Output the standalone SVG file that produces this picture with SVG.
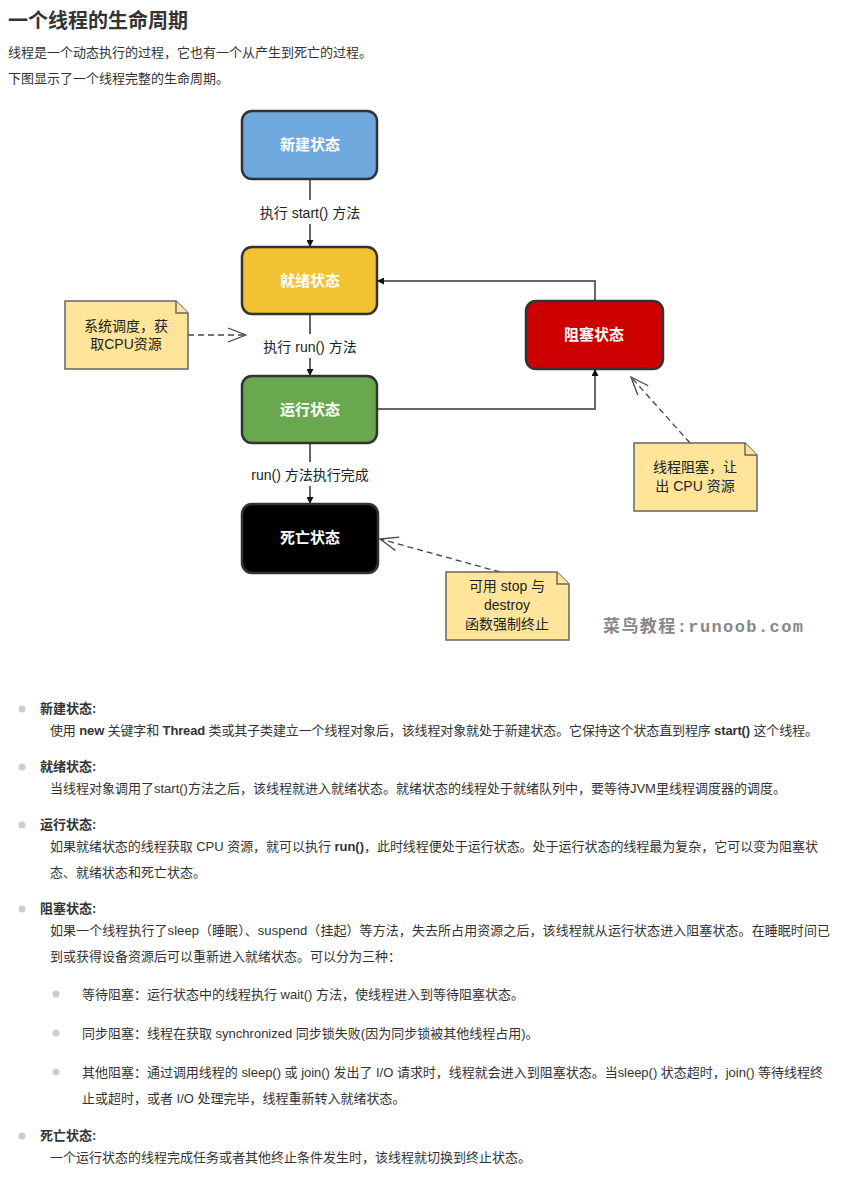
<svg xmlns="http://www.w3.org/2000/svg" width="847" height="1180" viewBox="0 0 847 1180">
<style>
text{font-family:"Liberation Sans","Noto Sans CJK SC",sans-serif;fill:#333}
.t{font-size:13px}
.b{font-weight:bold}
.node{stroke:#333;stroke-width:2.5}
.nl{font-size:15px;font-weight:bold;fill:#fff;text-anchor:middle}
.lbl{font-size:14px;text-anchor:middle;fill:#222}
.note{fill:#ffe599;stroke:#666;stroke-width:1.5}
.nt{font-size:14px;text-anchor:middle;fill:#222}
.c{stroke:#666;stroke-width:2;fill:none}
.d{stroke:#444;stroke-width:1.3;fill:none;stroke-dasharray:6,4}
.dot{fill:#ccc}
</style>
<defs>
<marker id="a" viewBox="0 0 10 10" refX="10" refY="5" markerWidth="7" markerHeight="7" orient="auto" markerUnits="userSpaceOnUse"><path d="M0,0L10,5L0,10z" fill="#111"/></marker>
<marker id="o" viewBox="0 0 20 20" refX="19" refY="10" markerWidth="20" markerHeight="20" orient="auto" markerUnits="userSpaceOnUse"><path d="M1,3L19,10L1,17" fill="none" stroke="#444" stroke-width="1.3"/></marker>
</defs>
<text x="8" y="28" class="b" style="font-size:20px">一个线程的生命周期</text>
<text x="8" y="57" class="t">线程是一个动态执行的过程，它也有一个从产生到死亡的过程。</text>
<text x="8" y="83" class="t">下图显示了一个线程完整的生命周期。</text>
<g id="connectors">
<path class="c" d="M310,179V247" marker-end="url(#a)"/>
<path class="c" d="M310,314V376" marker-end="url(#a)"/>
<path class="c" d="M310,443V504" marker-end="url(#a)"/>
<path class="c" d="M377,409H595V369" marker-end="url(#a)"/>
<path class="c" d="M595,301V281H377" marker-end="url(#a)"/>
<rect x="245" y="200" width="130" height="24" fill="#fff"/>
<text x="310" y="218" class="lbl">执行 start() 方法</text>
<rect x="252" y="334" width="116" height="24" fill="#fff"/>
<text x="310" y="352" class="lbl">执行 run() 方法</text>
<rect x="238" y="462" width="144" height="24" fill="#fff"/>
<text x="310" y="480" class="lbl">run() 方法执行完成</text>
<path class="d" d="M188,335H246" marker-end="url(#o)"/>
<path class="d" d="M690,443L631,377" marker-end="url(#o)"/>
<path class="d" d="M500,572L380,539" marker-end="url(#o)"/>
</g>
<g id="new"><rect class="node" x="242" y="111" width="135" height="68" rx="10" fill="#6fa8dc"/><text class="nl" x="310" y="150">新建状态</text></g>
<g id="ready"><rect class="node" x="242" y="247" width="135" height="67" rx="10" fill="#f1c232"/><text class="nl" x="310" y="286">就绪状态</text></g>
<g id="running"><rect class="node" x="242" y="376" width="135" height="67" rx="10" fill="#6aa84f"/><text class="nl" x="310" y="415">运行状态</text></g>
<g id="dead"><rect class="node" x="242" y="504" width="136" height="69" rx="10" fill="#000"/><text class="nl" x="310" y="543">死亡状态</text></g>
<g id="blocked"><rect class="node" x="526" y="301" width="137" height="68" rx="10" fill="#cc0000"/><text class="nl" x="594" y="340">阻塞状态</text></g>
<g id="note1"><path class="note" d="M65,301H176L188,313V369H65Z"/><path class="note" d="M176,301V313H188"/><text class="nt" x="126" y="331">系统调度，获</text><text class="nt" x="126" y="349">取CPU资源</text></g>
<g id="note2"><path class="note" d="M634,443H745L757,455V511H634Z"/><path class="note" d="M745,443V455H757"/><text class="nt" x="695" y="472">线程阻塞，让</text><text class="nt" x="695" y="491">出 CPU 资源</text></g>
<g id="note3"><path class="note" d="M446,572H557L569,584V640H446Z"/><path class="note" d="M557,572V584H569"/><text class="nt" x="507" y="591">可用 stop 与</text><text class="nt" x="507" y="610">destroy</text><text class="nt" x="507" y="629">函数强制终止</text></g>
<text x="603" y="632" textLength="200" style="font-size:17px;font-family:'Liberation Mono','Noto Sans CJK SC',monospace;fill:#888;font-weight:bold">菜鸟教程:runoob.com</text>
<circle class="dot" cx="22" cy="709" r="3.5"/><text x="40" y="713" class="t b">新建状态:</text>
<text x="50" y="735" class="t" textLength="768">使用 <tspan class="b">new</tspan> 关键字和 <tspan class="b">Thread</tspan> 类或其子类建立一个线程对象后，该线程对象就处于新建状态。它保持这个状态直到程序 <tspan class="b">start()</tspan> 这个线程。</text>
<circle class="dot" cx="22" cy="767" r="3.5"/><text x="40" y="771" class="t b">就绪状态:</text>
<text x="50" y="793" class="t">当线程对象调用了start()方法之后，该线程就进入就绪状态。就绪状态的线程处于就绪队列中，要等待JVM里线程调度器的调度。</text>
<circle class="dot" cx="22" cy="825" r="3.5"/><text x="40" y="829" class="t b">运行状态:</text>
<text x="50" y="851" class="t" textLength="768">如果就绪状态的线程获取 CPU 资源，就可以执行 <tspan class="b">run()</tspan>，此时线程便处于运行状态。处于运行状态的线程最为复杂，它可以变为阻塞状</text>
<text x="50" y="877" class="t">态、就绪状态和死亡状态。</text>
<circle class="dot" cx="22" cy="909" r="3.5"/><text x="40" y="913" class="t b">阻塞状态:</text>
<text x="50" y="935" class="t" textLength="780">如果一个线程执行了sleep（睡眠）、suspend（挂起）等方法，失去所占用资源之后，该线程就从运行状态进入阻塞状态。在睡眠时间已</text>
<text x="50" y="961" class="t">到或获得设备资源后可以重新进入就绪状态。可以分为三种：</text>
<circle class="dot" cx="56" cy="994" r="3.5"/><text x="82" y="999" class="t">等待阻塞：运行状态中的线程执行 wait() 方法，使线程进入到等待阻塞状态。</text>
<circle class="dot" cx="56" cy="1033" r="3.5"/><text x="82" y="1038" class="t">同步阻塞：线程在获取 synchronized 同步锁失败(因为同步锁被其他线程占用)。</text>
<circle class="dot" cx="56" cy="1072" r="3.5"/><text x="82" y="1077" class="t" textLength="741">其他阻塞：通过调用线程的 sleep() 或 join() 发出了 I/O 请求时，线程就会进入到阻塞状态。当sleep() 状态超时，join() 等待线程终</text>
<text x="82" y="1103" class="t">止或超时，或者 I/O 处理完毕，线程重新转入就绪状态。</text>
<circle class="dot" cx="22" cy="1136" r="3.5"/><text x="40" y="1140" class="t b">死亡状态:</text>
<text x="50" y="1162" class="t">一个运行状态的线程完成任务或者其他终止条件发生时，该线程就切换到终止状态。</text>
</svg>
